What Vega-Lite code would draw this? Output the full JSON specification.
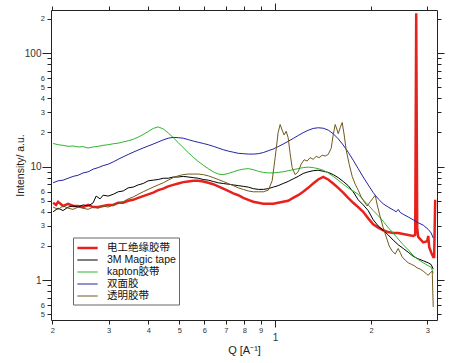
{
  "$schema": "https://vega.github.io/schema/vega-lite/v6.json",
  "width": 386,
  "height": 310,
  "autosize": {"type": "none"},
  "padding": {"left": 51, "top": 10, "right": 23, "bottom": 43},
  "background": "white",
  "config": {
    "view": {"stroke": null},
    "axis": {
      "grid": false,
      "domainColor": "#222",
      "tickColor": "#222",
      "labelColor": "#333",
      "titleColor": "#222",
      "labelFont": "Liberation Sans",
      "titleFont": "Liberation Sans",
      "titleFontWeight": "normal",
      "labelFlush": false,
      "labelOverlap": false,
      "labelBound": false
    },
    "legend": {
      "labelFont": "Liberation Sans, Noto Sans CJK SC",
      "labelFontSize": 10.5,
      "labelColor": "#111",
      "strokeColor": "#666",
      "fillColor": "white",
      "padding": 3,
      "rowPadding": 0,
      "symbolOffset": 4,
      "labelOffset": 12,
      "labelLimit": 200,
      "symbolType": "M-1.7,0H1.7",
      "symbolSize": 144
    }
  },
  "data": {"values": [
{"series":"电工绝缘胶带","Q":0.2010,"I":4.8},{"series":"电工绝缘胶带","Q":0.2054,"I":4.6},{"series":"电工绝缘胶带","Q":0.2084,"I":4.9},{"series":"电工绝缘胶带","Q":0.2161,"I":4.5},{"series":"电工绝缘胶带","Q":0.2241,"I":4.7},{"series":"电工绝缘胶带","Q":0.2323,"I":4.5},{"series":"电工绝缘胶带","Q":0.2409,"I":4.5},{"series":"电工绝缘胶带","Q":0.2497,"I":4.4},{"series":"电工绝缘胶带","Q":0.2589,"I":4.6},{"series":"电工绝缘胶带","Q":0.2685,"I":4.4},{"series":"电工绝缘胶带","Q":0.2784,"I":4.4},{"series":"电工绝缘胶带","Q":0.2886,"I":4.5},{"series":"电工绝缘胶带","Q":0.2992,"I":4.6},{"series":"电工绝缘胶带","Q":0.3103,"I":4.6},{"series":"电工绝缘胶带","Q":0.3217,"I":4.8},{"series":"电工绝缘胶带","Q":0.3335,"I":4.8},{"series":"电工绝缘胶带","Q":0.3458,"I":5.0},{"series":"电工绝缘胶带","Q":0.3585,"I":5.1},{"series":"电工绝缘胶带","Q":0.3717,"I":5.3},{"series":"电工绝缘胶带","Q":0.3854,"I":5.5},{"series":"电工绝缘胶带","Q":0.3996,"I":5.7},{"series":"电工绝缘胶带","Q":0.4143,"I":5.9},{"series":"电工绝缘胶带","Q":0.4296,"I":6.2},{"series":"电工绝缘胶带","Q":0.4454,"I":6.4},{"series":"电工绝缘胶带","Q":0.4618,"I":6.7},{"series":"电工绝缘胶带","Q":0.4788,"I":6.9},{"series":"电工绝缘胶带","Q":0.4964,"I":7.1},{"series":"电工绝缘胶带","Q":0.5147,"I":7.3},{"series":"电工绝缘胶带","Q":0.5336,"I":7.4},{"series":"电工绝缘胶带","Q":0.5533,"I":7.5},{"series":"电工绝缘胶带","Q":0.5736,"I":7.5},{"series":"电工绝缘胶带","Q":0.5948,"I":7.4},{"series":"电工绝缘胶带","Q":0.6167,"I":7.2},{"series":"电工绝缘胶带","Q":0.6394,"I":7.0},{"series":"电工绝缘胶带","Q":0.6629,"I":6.7},{"series":"电工绝缘胶带","Q":0.6873,"I":6.4},{"series":"电工绝缘胶带","Q":0.7126,"I":6.1},{"series":"电工绝缘胶带","Q":0.7389,"I":5.8},{"series":"电工绝缘胶带","Q":0.7661,"I":5.6},{"series":"电工绝缘胶带","Q":0.7943,"I":5.3},{"series":"电工绝缘胶带","Q":0.8235,"I":5.1},{"series":"电工绝缘胶带","Q":0.8538,"I":4.9},{"series":"电工绝缘胶带","Q":0.8853,"I":4.8},{"series":"电工绝缘胶带","Q":0.9179,"I":4.7},{"series":"电工绝缘胶带","Q":0.9517,"I":4.7},{"series":"电工绝缘胶带","Q":0.9867,"I":4.7},{"series":"电工绝缘胶带","Q":1.0219,"I":4.8},{"series":"电工绝缘胶带","Q":1.0595,"I":4.9},{"series":"电工绝缘胶带","Q":1.0985,"I":5.0},{"series":"电工绝缘胶带","Q":1.1390,"I":5.3},{"series":"电工绝缘胶带","Q":1.1809,"I":5.6},{"series":"电工绝缘胶带","Q":1.2244,"I":6.0},{"series":"电工绝缘胶带","Q":1.2694,"I":6.5},{"series":"电工绝缘胶带","Q":1.3162,"I":7.1},{"series":"电工绝缘胶带","Q":1.3646,"I":7.7},{"series":"电工绝缘胶带","Q":1.4149,"I":8.1},{"series":"电工绝缘胶带","Q":1.4669,"I":7.7},{"series":"电工绝缘胶带","Q":1.5209,"I":7.1},{"series":"电工绝缘胶带","Q":1.5769,"I":6.5},{"series":"电工绝缘胶带","Q":1.6349,"I":5.9},{"series":"电工绝缘胶带","Q":1.6951,"I":5.3},{"series":"电工绝缘胶带","Q":1.7575,"I":4.8},{"series":"电工绝缘胶带","Q":1.8221,"I":4.4},{"series":"电工绝缘胶带","Q":1.8892,"I":4.0},{"series":"电工绝缘胶带","Q":1.9587,"I":3.5},{"series":"电工绝缘胶带","Q":2.0308,"I":3.1},{"series":"电工绝缘胶带","Q":2.1056,"I":2.9},{"series":"电工绝缘胶带","Q":2.1830,"I":2.75},{"series":"电工绝缘胶带","Q":2.2634,"I":2.65},{"series":"电工绝缘胶带","Q":2.3467,"I":2.6},{"series":"电工绝缘胶带","Q":2.4330,"I":2.6},{"series":"电工绝缘胶带","Q":2.5226,"I":2.55},{"series":"电工绝缘胶带","Q":2.6154,"I":2.5},{"series":"电工绝缘胶带","Q":2.7116,"I":2.45},{"series":"电工绝缘胶带","Q":2.751,"I":2.5},{"series":"电工绝缘胶带","Q":2.771,"I":225},{"series":"电工绝缘胶带","Q":2.791,"I":2.9},{"series":"电工绝缘胶带","Q":2.8115,"I":2.4},{"series":"电工绝缘胶带","Q":2.9149,"I":2.15},{"series":"电工绝缘胶带","Q":3.000,"I":2.2},{"series":"电工绝缘胶带","Q":3.0222,"I":2.45},{"series":"电工绝缘胶带","Q":3.044,"I":1.95},{"series":"电工绝缘胶带","Q":3.088,"I":1.75},{"series":"电工绝缘胶带","Q":3.1333,"I":1.6},{"series":"电工绝缘胶带","Q":3.155,"I":1.6},{"series":"电工绝缘胶带","Q":3.178,"I":5.1},
{"series":"3M Magic tape","Q":0.2010,"I":4.0},{"series":"3M Magic tape","Q":0.2084,"I":4.3},{"series":"3M Magic tape","Q":0.2161,"I":4.1},{"series":"3M Magic tape","Q":0.2241,"I":4.4},{"series":"3M Magic tape","Q":0.2323,"I":4.5},{"series":"3M Magic tape","Q":0.2409,"I":4.4},{"series":"3M Magic tape","Q":0.2497,"I":4.6},{"series":"3M Magic tape","Q":0.2589,"I":4.5},{"series":"3M Magic tape","Q":0.2685,"I":4.8},{"series":"3M Magic tape","Q":0.2743,"I":5.5},{"series":"3M Magic tape","Q":0.2823,"I":5.2},{"series":"3M Magic tape","Q":0.2886,"I":5.6},{"series":"3M Magic tape","Q":0.2992,"I":5.5},{"series":"3M Magic tape","Q":0.3103,"I":5.7},{"series":"3M Magic tape","Q":0.3217,"I":6.0},{"series":"3M Magic tape","Q":0.3335,"I":6.1},{"series":"3M Magic tape","Q":0.3458,"I":6.5},{"series":"3M Magic tape","Q":0.3585,"I":6.6},{"series":"3M Magic tape","Q":0.3717,"I":6.9},{"series":"3M Magic tape","Q":0.3854,"I":7.1},{"series":"3M Magic tape","Q":0.3996,"I":7.5},{"series":"3M Magic tape","Q":0.4143,"I":7.6},{"series":"3M Magic tape","Q":0.4296,"I":7.7},{"series":"3M Magic tape","Q":0.4454,"I":7.9},{"series":"3M Magic tape","Q":0.4618,"I":7.9},{"series":"3M Magic tape","Q":0.4788,"I":8.1},{"series":"3M Magic tape","Q":0.4964,"I":8.1},{"series":"3M Magic tape","Q":0.5147,"I":8.2},{"series":"3M Magic tape","Q":0.5336,"I":8.1},{"series":"3M Magic tape","Q":0.5533,"I":8.0},{"series":"3M Magic tape","Q":0.5736,"I":7.9},{"series":"3M Magic tape","Q":0.5948,"I":7.7},{"series":"3M Magic tape","Q":0.6167,"I":7.6},{"series":"3M Magic tape","Q":0.6394,"I":7.4},{"series":"3M Magic tape","Q":0.6629,"I":7.2},{"series":"3M Magic tape","Q":0.6873,"I":7.1},{"series":"3M Magic tape","Q":0.7126,"I":7.0},{"series":"3M Magic tape","Q":0.7389,"I":6.9},{"series":"3M Magic tape","Q":0.7661,"I":6.8},{"series":"3M Magic tape","Q":0.7943,"I":6.7},{"series":"3M Magic tape","Q":0.8235,"I":6.6},{"series":"3M Magic tape","Q":0.8538,"I":6.4},{"series":"3M Magic tape","Q":0.8853,"I":6.3},{"series":"3M Magic tape","Q":0.9179,"I":6.3},{"series":"3M Magic tape","Q":0.9517,"I":6.4},{"series":"3M Magic tape","Q":0.9867,"I":6.6},{"series":"3M Magic tape","Q":1.0219,"I":6.8},{"series":"3M Magic tape","Q":1.0595,"I":7.1},{"series":"3M Magic tape","Q":1.0985,"I":7.4},{"series":"3M Magic tape","Q":1.1390,"I":7.8},{"series":"3M Magic tape","Q":1.1809,"I":8.2},{"series":"3M Magic tape","Q":1.2244,"I":8.7},{"series":"3M Magic tape","Q":1.2694,"I":9.0},{"series":"3M Magic tape","Q":1.3162,"I":9.2},{"series":"3M Magic tape","Q":1.3646,"I":9.3},{"series":"3M Magic tape","Q":1.4149,"I":9.1},{"series":"3M Magic tape","Q":1.4669,"I":8.9},{"series":"3M Magic tape","Q":1.5209,"I":8.5},{"series":"3M Magic tape","Q":1.5769,"I":8.0},{"series":"3M Magic tape","Q":1.6349,"I":7.4},{"series":"3M Magic tape","Q":1.6951,"I":6.8},{"series":"3M Magic tape","Q":1.7575,"I":6.0},{"series":"3M Magic tape","Q":1.8221,"I":5.1},{"series":"3M Magic tape","Q":1.8892,"I":4.6},{"series":"3M Magic tape","Q":1.9587,"I":4.1},{"series":"3M Magic tape","Q":2.0308,"I":3.4},{"series":"3M Magic tape","Q":2.1056,"I":3.0},{"series":"3M Magic tape","Q":2.1830,"I":2.75},{"series":"3M Magic tape","Q":2.2634,"I":2.5},{"series":"3M Magic tape","Q":2.3467,"I":2.25},{"series":"3M Magic tape","Q":2.4330,"I":2.05},{"series":"3M Magic tape","Q":2.5226,"I":1.9},{"series":"3M Magic tape","Q":2.6154,"I":1.76},{"series":"3M Magic tape","Q":2.7116,"I":1.62},{"series":"3M Magic tape","Q":2.8115,"I":1.54},{"series":"3M Magic tape","Q":2.9149,"I":1.48},{"series":"3M Magic tape","Q":3.0222,"I":1.42},{"series":"3M Magic tape","Q":3.088,"I":1.37},{"series":"3M Magic tape","Q":3.1333,"I":1.25},
{"series":"kapton胶带","Q":0.2010,"I":16.0},{"series":"kapton胶带","Q":0.2084,"I":15.6},{"series":"kapton胶带","Q":0.2161,"I":15.4},{"series":"kapton胶带","Q":0.2241,"I":15.1},{"series":"kapton胶带","Q":0.2323,"I":15.2},{"series":"kapton胶带","Q":0.2409,"I":14.9},{"series":"kapton胶带","Q":0.2497,"I":15.0},{"series":"kapton胶带","Q":0.2589,"I":14.6},{"series":"kapton胶带","Q":0.2685,"I":14.9},{"series":"kapton胶带","Q":0.2784,"I":15.1},{"series":"kapton胶带","Q":0.2886,"I":15.4},{"series":"kapton胶带","Q":0.2992,"I":15.6},{"series":"kapton胶带","Q":0.3103,"I":15.9},{"series":"kapton胶带","Q":0.3217,"I":16.1},{"series":"kapton胶带","Q":0.3335,"I":16.5},{"series":"kapton胶带","Q":0.3458,"I":16.9},{"series":"kapton胶带","Q":0.3585,"I":17.4},{"series":"kapton胶带","Q":0.3717,"I":18.2},{"series":"kapton胶带","Q":0.3854,"I":19.2},{"series":"kapton胶带","Q":0.3996,"I":20.4},{"series":"kapton胶带","Q":0.4143,"I":21.7},{"series":"kapton胶带","Q":0.4296,"I":22.4},{"series":"kapton胶带","Q":0.4454,"I":21.5},{"series":"kapton胶带","Q":0.4618,"I":19.8},{"series":"kapton胶带","Q":0.4788,"I":18.0},{"series":"kapton胶带","Q":0.4964,"I":16.3},{"series":"kapton胶带","Q":0.5147,"I":14.7},{"series":"kapton胶带","Q":0.5336,"I":13.3},{"series":"kapton胶带","Q":0.5533,"I":12.1},{"series":"kapton胶带","Q":0.5736,"I":11.1},{"series":"kapton胶带","Q":0.5948,"I":10.3},{"series":"kapton胶带","Q":0.6167,"I":9.6},{"series":"kapton胶带","Q":0.6394,"I":9.0},{"series":"kapton胶带","Q":0.6629,"I":8.6},{"series":"kapton胶带","Q":0.6873,"I":8.5},{"series":"kapton胶带","Q":0.7126,"I":8.7},{"series":"kapton胶带","Q":0.7389,"I":9.0},{"series":"kapton胶带","Q":0.7661,"I":9.3},{"series":"kapton胶带","Q":0.7943,"I":9.5},{"series":"kapton胶带","Q":0.8235,"I":9.6},{"series":"kapton胶带","Q":0.8538,"I":9.4},{"series":"kapton胶带","Q":0.8853,"I":9.1},{"series":"kapton胶带","Q":0.9179,"I":8.9},{"series":"kapton胶带","Q":0.9517,"I":8.8},{"series":"kapton胶带","Q":0.9867,"I":8.8},{"series":"kapton胶带","Q":1.0219,"I":8.9},{"series":"kapton胶带","Q":1.0595,"I":9.0},{"series":"kapton胶带","Q":1.0985,"I":9.2},{"series":"kapton胶带","Q":1.1390,"I":9.4},{"series":"kapton胶带","Q":1.1809,"I":9.6},{"series":"kapton胶带","Q":1.2244,"I":9.8},{"series":"kapton胶带","Q":1.2694,"I":9.9},{"series":"kapton胶带","Q":1.3162,"I":9.8},{"series":"kapton胶带","Q":1.3646,"I":9.6},{"series":"kapton胶带","Q":1.4149,"I":9.3},{"series":"kapton胶带","Q":1.4669,"I":8.8},{"series":"kapton胶带","Q":1.5209,"I":8.2},{"series":"kapton胶带","Q":1.5769,"I":7.6},{"series":"kapton胶带","Q":1.6349,"I":7.0},{"series":"kapton胶带","Q":1.6951,"I":6.5},{"series":"kapton胶带","Q":1.7575,"I":6.1},{"series":"kapton胶带","Q":1.8221,"I":5.7},{"series":"kapton胶带","Q":1.8892,"I":5.1},{"series":"kapton胶带","Q":1.9587,"I":4.6},{"series":"kapton胶带","Q":2.0308,"I":4.1},{"series":"kapton胶带","Q":2.1056,"I":3.7},{"series":"kapton胶带","Q":2.1830,"I":3.3},{"series":"kapton胶带","Q":2.2634,"I":2.9},{"series":"kapton胶带","Q":2.3467,"I":2.6},{"series":"kapton胶带","Q":2.4330,"I":2.3},{"series":"kapton胶带","Q":2.5226,"I":2.05},{"series":"kapton胶带","Q":2.6154,"I":1.85},{"series":"kapton胶带","Q":2.7116,"I":1.65},{"series":"kapton胶带","Q":2.8115,"I":1.52},{"series":"kapton胶带","Q":2.9149,"I":1.42},{"series":"kapton胶带","Q":3.0222,"I":1.34},{"series":"kapton胶带","Q":3.088,"I":1.3},{"series":"kapton胶带","Q":3.1333,"I":1.15},
{"series":"双面胶","Q":0.2010,"I":7.2},{"series":"双面胶","Q":0.2084,"I":7.5},{"series":"双面胶","Q":0.2161,"I":7.6},{"series":"双面胶","Q":0.2241,"I":7.9},{"series":"双面胶","Q":0.2323,"I":8.2},{"series":"双面胶","Q":0.2409,"I":8.4},{"series":"双面胶","Q":0.2497,"I":8.8},{"series":"双面胶","Q":0.2589,"I":9.0},{"series":"双面胶","Q":0.2685,"I":9.5},{"series":"双面胶","Q":0.2784,"I":9.8},{"series":"双面胶","Q":0.2886,"I":10.2},{"series":"双面胶","Q":0.2992,"I":10.5},{"series":"双面胶","Q":0.3103,"I":11.0},{"series":"双面胶","Q":0.3217,"I":11.6},{"series":"双面胶","Q":0.3335,"I":12.2},{"series":"双面胶","Q":0.3458,"I":12.8},{"series":"双面胶","Q":0.3585,"I":13.4},{"series":"双面胶","Q":0.3717,"I":14.0},{"series":"双面胶","Q":0.3854,"I":14.6},{"series":"双面胶","Q":0.3996,"I":15.2},{"series":"双面胶","Q":0.4143,"I":15.8},{"series":"双面胶","Q":0.4296,"I":16.5},{"series":"双面胶","Q":0.4454,"I":17.2},{"series":"双面胶","Q":0.4618,"I":17.8},{"series":"双面胶","Q":0.4788,"I":18.1},{"series":"双面胶","Q":0.4964,"I":18.0},{"series":"双面胶","Q":0.5147,"I":17.8},{"series":"双面胶","Q":0.5336,"I":17.3},{"series":"双面胶","Q":0.5533,"I":16.8},{"series":"双面胶","Q":0.5736,"I":16.4},{"series":"双面胶","Q":0.5948,"I":16.0},{"series":"双面胶","Q":0.6167,"I":15.6},{"series":"双面胶","Q":0.6394,"I":15.1},{"series":"双面胶","Q":0.6629,"I":14.6},{"series":"双面胶","Q":0.6873,"I":14.1},{"series":"双面胶","Q":0.7126,"I":13.7},{"series":"双面胶","Q":0.7389,"I":13.4},{"series":"双面胶","Q":0.7661,"I":13.1},{"series":"双面胶","Q":0.7943,"I":13.0},{"series":"双面胶","Q":0.8235,"I":12.9},{"series":"双面胶","Q":0.8538,"I":12.9},{"series":"双面胶","Q":0.8853,"I":13.0},{"series":"双面胶","Q":0.9179,"I":13.3},{"series":"双面胶","Q":0.9517,"I":13.8},{"series":"双面胶","Q":0.9867,"I":14.3},{"series":"双面胶","Q":1.0219,"I":15.0},{"series":"双面胶","Q":1.0595,"I":15.8},{"series":"双面胶","Q":1.0985,"I":16.7},{"series":"双面胶","Q":1.1390,"I":17.7},{"series":"双面胶","Q":1.1809,"I":18.8},{"series":"双面胶","Q":1.2244,"I":19.9},{"series":"双面胶","Q":1.2694,"I":20.9},{"series":"双面胶","Q":1.3162,"I":21.7},{"series":"双面胶","Q":1.3646,"I":22.0},{"series":"双面胶","Q":1.4149,"I":21.8},{"series":"双面胶","Q":1.4669,"I":21.0},{"series":"双面胶","Q":1.5209,"I":19.5},{"series":"双面胶","Q":1.5769,"I":17.6},{"series":"双面胶","Q":1.6349,"I":15.5},{"series":"双面胶","Q":1.6951,"I":13.4},{"series":"双面胶","Q":1.7575,"I":11.4},{"series":"双面胶","Q":1.8221,"I":9.6},{"series":"双面胶","Q":1.8892,"I":8.1},{"series":"双面胶","Q":1.9587,"I":6.9},{"series":"双面胶","Q":2.0308,"I":5.9},{"series":"双面胶","Q":2.1056,"I":5.2},{"series":"双面胶","Q":2.1830,"I":4.7},{"series":"双面胶","Q":2.2634,"I":4.4},{"series":"双面胶","Q":2.3467,"I":4.15},{"series":"双面胶","Q":2.398,"I":4.0},{"series":"双面胶","Q":2.4330,"I":4.2},{"series":"双面胶","Q":2.468,"I":3.95},{"series":"双面胶","Q":2.5226,"I":3.8},{"series":"双面胶","Q":2.6154,"I":3.6},{"series":"双面胶","Q":2.7116,"I":3.4},{"series":"双面胶","Q":2.8115,"I":3.2},{"series":"双面胶","Q":2.9149,"I":3.05},{"series":"双面胶","Q":3.0222,"I":2.8},{"series":"双面胶","Q":3.088,"I":2.6},{"series":"双面胶","Q":3.1333,"I":2.35},
{"series":"透明胶带","Q":0.2010,"I":4.4},{"series":"透明胶带","Q":0.2084,"I":4.2},{"series":"透明胶带","Q":0.2161,"I":4.5},{"series":"透明胶带","Q":0.2241,"I":4.3},{"series":"透明胶带","Q":0.2323,"I":4.2},{"series":"透明胶带","Q":0.2409,"I":4.4},{"series":"透明胶带","Q":0.2497,"I":4.3},{"series":"透明胶带","Q":0.2589,"I":4.2},{"series":"透明胶带","Q":0.2685,"I":4.4},{"series":"透明胶带","Q":0.2784,"I":4.3},{"series":"透明胶带","Q":0.2886,"I":4.5},{"series":"透明胶带","Q":0.2992,"I":4.4},{"series":"透明胶带","Q":0.3103,"I":4.6},{"series":"透明胶带","Q":0.3217,"I":4.8},{"series":"透明胶带","Q":0.3335,"I":4.9},{"series":"透明胶带","Q":0.3458,"I":5.2},{"series":"透明胶带","Q":0.3585,"I":5.4},{"series":"透明胶带","Q":0.3717,"I":5.7},{"series":"透明胶带","Q":0.3854,"I":6.0},{"series":"透明胶带","Q":0.3996,"I":6.3},{"series":"透明胶带","Q":0.4143,"I":6.6},{"series":"透明胶带","Q":0.4296,"I":6.9},{"series":"透明胶带","Q":0.4454,"I":7.2},{"series":"透明胶带","Q":0.4618,"I":7.6},{"series":"透明胶带","Q":0.4788,"I":8.0},{"series":"透明胶带","Q":0.4964,"I":8.3},{"series":"透明胶带","Q":0.5147,"I":8.5},{"series":"透明胶带","Q":0.5336,"I":8.6},{"series":"透明胶带","Q":0.5533,"I":8.6},{"series":"透明胶带","Q":0.5736,"I":8.6},{"series":"透明胶带","Q":0.5948,"I":8.5},{"series":"透明胶带","Q":0.6167,"I":8.3},{"series":"透明胶带","Q":0.6394,"I":8.0},{"series":"透明胶带","Q":0.6629,"I":7.7},{"series":"透明胶带","Q":0.6873,"I":7.4},{"series":"透明胶带","Q":0.7126,"I":7.1},{"series":"透明胶带","Q":0.7389,"I":6.8},{"series":"透明胶带","Q":0.7661,"I":6.5},{"series":"透明胶带","Q":0.7943,"I":6.3},{"series":"透明胶带","Q":0.8235,"I":6.1},{"series":"透明胶带","Q":0.8538,"I":6.0},{"series":"透明胶带","Q":0.8853,"I":6.0},{"series":"透明胶带","Q":0.9179,"I":6.0},{"series":"透明胶带","Q":0.9517,"I":6.2},{"series":"透明胶带","Q":0.9786,"I":7.5},{"series":"透明胶带","Q":1.0,"I":12},{"series":"透明胶带","Q":1.0219,"I":20},{"series":"透明胶带","Q":1.0368,"I":23.5},{"series":"透明胶带","Q":1.0519,"I":21},{"series":"透明胶带","Q":1.0672,"I":19},{"series":"透明胶带","Q":1.0828,"I":20.5},{"series":"透明胶带","Q":1.0985,"I":18},{"series":"透明胶带","Q":1.1145,"I":13},{"series":"透明胶带","Q":1.1307,"I":9.8},{"series":"透明胶带","Q":1.1555,"I":8.5},{"series":"透明胶带","Q":1.1809,"I":9.0},{"series":"透明胶带","Q":1.2067,"I":10.5},{"series":"透明胶带","Q":1.2332,"I":11.5},{"series":"透明胶带","Q":1.2603,"I":11.2},{"series":"透明胶带","Q":1.2880,"I":12.0},{"series":"透明胶带","Q":1.3162,"I":11.6},{"series":"透明胶带","Q":1.3451,"I":12.3},{"series":"透明胶带","Q":1.3746,"I":12.0},{"series":"透明胶带","Q":1.4047,"I":12.6},{"series":"透明胶带","Q":1.4354,"I":12.4},{"series":"透明胶带","Q":1.4669,"I":12.8},{"series":"透明胶带","Q":1.4990,"I":14.5},{"series":"透明胶带","Q":1.5209,"I":19},{"series":"透明胶带","Q":1.5431,"I":23.5},{"series":"透明胶带","Q":1.5655,"I":21},{"series":"透明胶带","Q":1.5769,"I":19.5},{"series":"透明胶带","Q":1.5999,"I":22},{"series":"透明胶带","Q":1.6231,"I":24.5},{"series":"透明胶带","Q":1.6468,"I":19},{"series":"透明胶带","Q":1.6708,"I":14},{"series":"透明胶带","Q":1.7075,"I":10.5},{"series":"透明胶带","Q":1.7449,"I":8.2},{"series":"透明胶带","Q":1.7831,"I":7.0},{"series":"透明胶带","Q":1.8221,"I":6.2},{"series":"透明胶带","Q":1.8620,"I":5.4},{"series":"透明胶带","Q":1.9028,"I":4.9},{"series":"透明胶带","Q":1.9444,"I":4.5},{"series":"透明胶带","Q":1.9870,"I":4.9},{"series":"透明胶带","Q":2.0308,"I":5.3},{"series":"透明胶带","Q":2.0606,"I":5.6},{"series":"透明胶带","Q":2.0906,"I":4.6},{"series":"透明胶带","Q":2.1365,"I":3.6},{"series":"透明胶带","Q":2.1830,"I":2.9},{"series":"透明胶带","Q":2.2308,"I":2.4},{"series":"透明胶带","Q":2.2796,"I":2.0},{"series":"透明胶带","Q":2.3298,"I":1.8},{"series":"透明胶带","Q":2.3809,"I":1.7},{"series":"透明胶带","Q":2.4330,"I":1.9},{"series":"透明胶带","Q":2.4680,"I":1.75},{"series":"透明胶带","Q":2.5042,"I":1.6},{"series":"透明胶带","Q":2.5590,"I":1.5},{"series":"透明胶带","Q":2.6154,"I":1.42},{"series":"透明胶带","Q":2.6727,"I":1.38},{"series":"透明胶带","Q":2.7313,"I":1.34},{"series":"透明胶带","Q":2.7913,"I":1.28},{"series":"透明胶带","Q":2.8525,"I":1.25},{"series":"透明胶带","Q":2.9149,"I":1.2},{"series":"透明胶带","Q":2.9787,"I":1.14},{"series":"透明胶带","Q":3.0222,"I":1.1},{"series":"透明胶带","Q":3.0661,"I":1.16},{"series":"透明胶带","Q":3.1108,"I":1.2},{"series":"透明胶带","Q":3.1333,"I":0.58}
  ]},
  "layer": [
    {
      "mark": {"type": "line", "clip": true},
      "encoding": {
        "x": {
          "field": "Q", "type": "quantitative",
          "scale": {"type": "log", "domain": [0.198, 3.22], "nice": false},
          "axis": {
            "orient": "bottom",
            "title": "Q [A⁻¹]",
            "titleFontSize": 11,
            "titleY": 30,
            "titleBaseline": "middle",
            "values": [0.2, 0.3, 0.4, 0.5, 0.6, 0.7, 0.8, 0.9, 1, 2, 3],
            "labelExpr": "datum.value < 0.95 ? format(datum.value * 10, '.0f') : format(datum.value, '.0f')",
            "tickSize": {"condition": {"test": "datum.value == 1", "value": 7}, "value": 4},
            "labelPadding": {"condition": {"test": "datum.value == 1", "value": 5}, "value": 2},
            "labelFontSize": {"condition": {"test": "datum.value == 1", "value": 10}, "value": 7.5}
          }
        },
        "y": {
          "field": "I", "type": "quantitative",
          "scale": {"type": "log", "domain": [0.445, 240], "nice": false},
          "axis": {
            "orient": "left",
            "title": "Intensity/ a.u.",
            "titleFontSize": 10.5,
            "titleX": -31,
            "titleY": 155,
            "titleAngle": 270,
            "titleAlign": "center",
            "titleBaseline": "middle",
            "values": [0.5, 0.6, 0.7, 0.8, 0.9, 1, 2, 3, 4, 5, 6, 7, 8, 9, 10, 20, 30, 40, 50, 60, 70, 80, 90, 100, 200],
            "labelExpr": "indexof([1, 10, 100], datum.value) >= 0 ? format(datum.value, 'd') : (round(datum.value / pow(10, floor(log(datum.value) / LN10 + 1e-6))) <= 6 ? format(round(datum.value / pow(10, floor(log(datum.value) / LN10 + 1e-6))), 'd') : '')",
            "tickSize": {"condition": {"test": "indexof([1, 10, 100], datum.value) >= 0", "value": 9}, "value": 4},
            "labelPadding": {"condition": {"test": "indexof([1, 10, 100], datum.value) >= 0", "value": 1}, "value": 2.5},
            "labelFontSize": {"condition": {"test": "indexof([1, 10, 100], datum.value) >= 0", "value": 10}, "value": 7.5}
          }
        },
        "color": {
          "field": "series", "type": "nominal",
          "scale": {
            "domain": ["电工绝缘胶带", "3M Magic tape", "kapton胶带", "双面胶", "透明胶带"],
            "range": ["#e8211d", "#000000", "#2fb52f", "#2323a6", "#6f5a1c"]
          },
          "legend": {"orient": "none", "legendX": 22, "legendY": 227.5, "title": null}
        },
        "strokeWidth": {
          "field": "series", "type": "nominal",
          "scale": {
            "type": "ordinal",
            "domain": ["电工绝缘胶带", "3M Magic tape", "kapton胶带", "双面胶", "透明胶带"],
            "range": [2.5, 1, 1, 1, 1]
          },
          "legend": {"orient": "none", "legendX": 22, "legendY": 227.5, "title": null}
        }
      }
    },
    {
      "mark": {"type": "point", "opacity": 0},
      "encoding": {
        "x": {
          "field": "Q", "type": "quantitative",
          "scale": {"type": "log", "domain": [0.198, 3.22], "nice": false},
          "axis": {
            "orient": "top", "title": null, "labels": false,
            "values": [0.2, 0.3, 0.4, 0.5, 0.6, 0.7, 0.8, 0.9, 1, 2, 3],
            "tickSize": {"condition": {"test": "datum.value == 1", "value": 7}, "value": 4}
          }
        },
        "y": {
          "field": "I", "type": "quantitative",
          "scale": {"type": "log", "domain": [0.445, 240], "nice": false},
          "axis": {
            "orient": "right", "title": null, "labels": false,
            "values": [0.5, 0.6, 0.7, 0.8, 0.9, 1, 2, 3, 4, 5, 6, 7, 8, 9, 10, 20, 30, 40, 50, 60, 70, 80, 90, 100, 200],
            "tickSize": {"condition": {"test": "indexof([1, 10, 100], datum.value) >= 0", "value": 7}, "value": 4}
          }
        }
      }
    }
  ],
  "resolve": {"axis": {"x": "independent", "y": "independent"}}
}
